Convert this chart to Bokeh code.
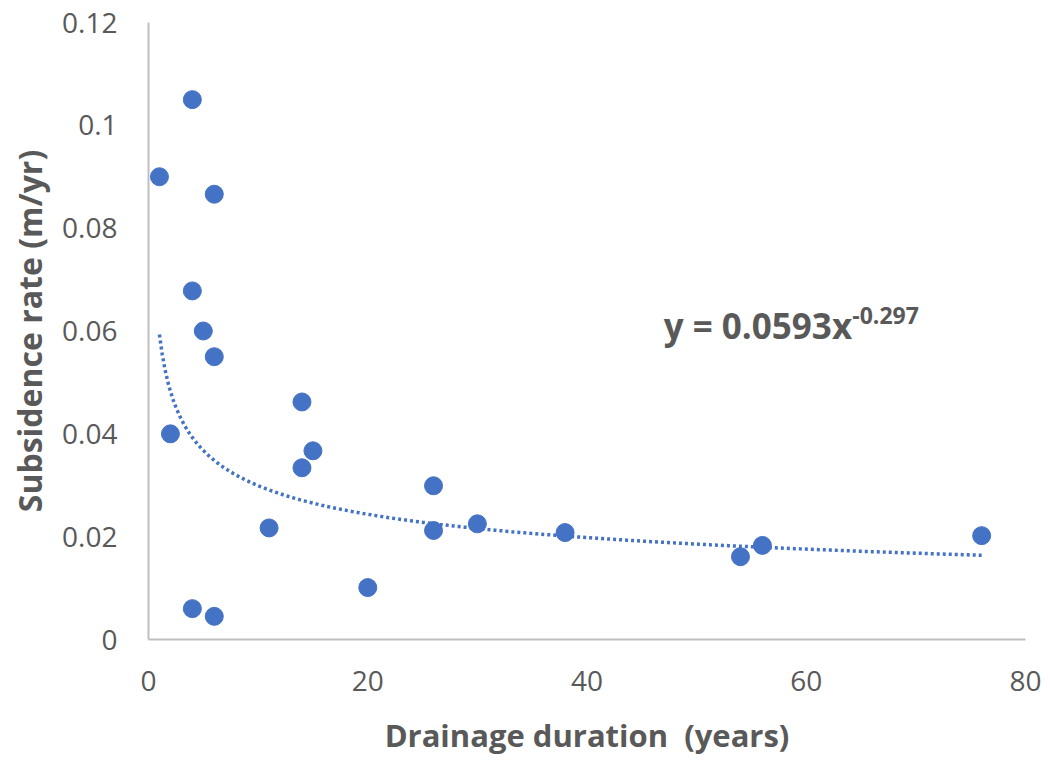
import numpy as np
from bokeh.plotting import figure
from bokeh.models import Range1d, FixedTicker, CustomJSTickFormatter, Label
from bokeh.embed import file_html
from bokeh.resources import INLINE

# Data
duration_years = [1, 4, 6, 4, 5, 6, 2, 14, 15, 14, 11, 4, 6, 20, 26, 26, 30, 38, 54, 56, 76]
subsidence_rate = [0.090, 0.105, 0.0866, 0.0678, 0.060, 0.055, 0.040, 0.0462, 0.0367, 0.0334,
                   0.0217, 0.006, 0.0045, 0.0101, 0.0299, 0.0212, 0.0225, 0.0208, 0.0161, 0.0183, 0.0202]

# Power trendline shown on the chart: y = 0.0593 x^-0.297
trend_coef = 0.0593
trend_exp = -0.297
trend_x_start, trend_x_end = 1, 76

x_ticks = [0, 20, 40, 60, 80]
y_ticks = [0, 0.02, 0.04, 0.06, 0.08, 0.1, 0.12]

FONT = "Open Sans"
GREY = "#595959"
BLUE = "#4472C4"

p = figure(width=1042, height=758, output_backend="svg", toolbar_location=None,
           x_range=Range1d(0, 80), y_range=Range1d(0, 0.12))
p.min_border_left = 148
p.min_border_right = 17
p.min_border_top = 22
p.min_border_bottom = 118
p.outline_line_color = None
p.background_fill_color = "white"
p.border_fill_color = "white"
p.xgrid.visible = False
p.ygrid.visible = False

tx = np.linspace(trend_x_start, trend_x_end, 300)
ty = trend_coef * tx ** trend_exp
p.line(tx, ty, line_color=BLUE, line_width=3.5, line_dash="3 3")

p.scatter(duration_years, subsidence_rate, size=18, fill_color=BLUE, line_color=BLUE)

for ax in (p.xaxis[0], p.yaxis[0]):
    ax.axis_line_color = "#BFBFBF"
    ax.axis_line_width = 2
    ax.major_tick_line_color = None
    ax.minor_tick_line_color = None
    ax.major_tick_out = 0
    ax.major_tick_in = 0
    ax.major_label_text_font = FONT
    ax.major_label_text_font_size = "28px"
    ax.major_label_text_color = GREY
    ax.axis_label_text_font = FONT
    ax.axis_label_text_font_size = "31px"
    ax.axis_label_text_font_style = "bold"
    ax.axis_label_text_color = GREY

p.yaxis.axis_label_text_font_size = "32px"
p.xaxis.ticker = FixedTicker(ticks=x_ticks)
p.yaxis.ticker = FixedTicker(ticks=y_ticks)
p.yaxis.formatter = CustomJSTickFormatter(code="return tick.toString();")
p.xaxis.major_label_standoff = 31
p.yaxis.major_label_standoff = 31
p.xaxis.axis_label = "Drainage duration \u00a0(years)"
p.yaxis.axis_label = "Subsidence rate (m/yr)"
p.xaxis.axis_label_standoff = 20
p.yaxis.axis_label_standoff = 8

eq_main = Label(x=47.0, y=0.0611, text="y = 0.0593x", text_font=FONT, text_font_size="35px",
                text_font_style="bold", text_color=GREY, text_baseline="alphabetic")
eq_sup = Label(x=64.2, y=0.0631, text="-0.297", text_font=FONT, text_font_size="23px",
               text_font_style="bold", text_color=GREY, text_baseline="alphabetic")
p.add_layout(eq_main)
p.add_layout(eq_sup)

open("out.html", "w").write(file_html(p, INLINE))
